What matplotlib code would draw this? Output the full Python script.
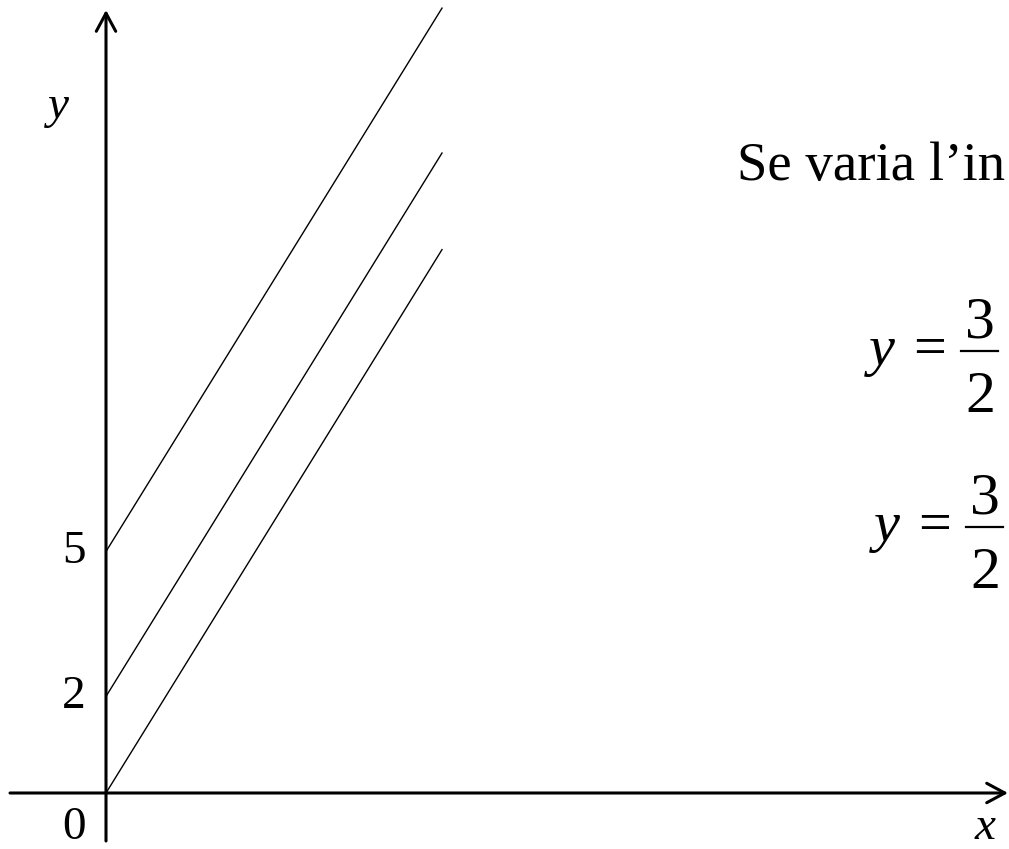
import matplotlib
matplotlib.use('Agg')
import matplotlib.pyplot as plt
from matplotlib.patches import FancyArrowPatch

# Rette y = 3/2 x + q  (q = 0, 2, 5)
intercette = [0, 2, 5]
x_inizio = [0, 0, 0]
x_fine = [7.5, 7.5, 7.5]
y_fine = [11.25, 13.25, 16.25]
tick_y = [5, 2]
tick_labels = ['5', '2']

W, H = 1009, 849
SERIF = 'Liberation Serif'

# scala in pixel per unità
ox, oy = 106, 793
sx, sy = 44.8, 48.3

fig = plt.figure(figsize=(W / 100, H / 100), dpi=100)
ax = fig.add_axes([0, 0, 1, 1])
ax.set_xlim(-ox / sx, (W - ox) / sx)
ax.set_ylim(-(H - oy) / sy, oy / sy)
ax.axis('off')


def px(x, y):
    return x / W, 1 - y / H


# assi con freccia aperta
for start, end in [((-96 / sx, 0), ((1008 - ox) / sx, 0)),
                   ((0, -(841 - oy) / sy), (0, (oy - 10) / sy))]:
    ax.add_patch(FancyArrowPatch(start, end,
                                 arrowstyle='->,head_length=13,head_width=7',
                                 mutation_scale=1, lw=2.2, color='black',
                                 shrinkA=0, shrinkB=0))

for x0, q, x1, y1 in zip(x_inizio, intercette, x_fine, y_fine):
    ax.plot([x0, x1], [q, y1], color='black', lw=1.0)

# etichette assi
for v, lab in zip(tick_y, tick_labels):
    ax.text(-32 / sx, v, lab, fontsize=34, family=SERIF,
            ha='center', va='center')
fig.text(*px(74, 849), '0', fontsize=34, family=SERIF, ha='center', va='bottom')
fig.text(*px(58, 118), 'y', fontsize=34, family=SERIF, style='italic',
         ha='center', va='baseline')
fig.text(*px(985, 849), 'x', fontsize=34, family=SERIF, style='italic',
         ha='center', va='bottom')

# testo a destra
fig.text(*px(737, 180), 'Se varia l\u2019in', fontsize=39.5, family=SERIF,
         ha='left', va='baseline')

for dx, bar_y in [(0, 351), (5, 527)]:
    fig.text(*px(882 + dx, bar_y + 14), 'y', fontsize=42, family=SERIF,
             style='italic', ha='center', va='baseline')
    fig.text(*px(930 + dx, bar_y + 14), '=', fontsize=42, family=SERIF,
             ha='center', va='baseline')
    fig.text(*px(980 + dx, bar_y - 13), '3', fontsize=43, family=SERIF,
             ha='center', va='baseline')
    fig.text(*px(980 + dx, bar_y + 61), '2', fontsize=43, family=SERIF,
             ha='center', va='baseline')
    fig.add_artist(plt.Line2D([(961 + dx) / W, (998 + dx) / W],
                              [1 - bar_y / H, 1 - bar_y / H],
                              transform=fig.transFigure, color='black', lw=1.6))

fig.savefig('out.png', dpi=100)
